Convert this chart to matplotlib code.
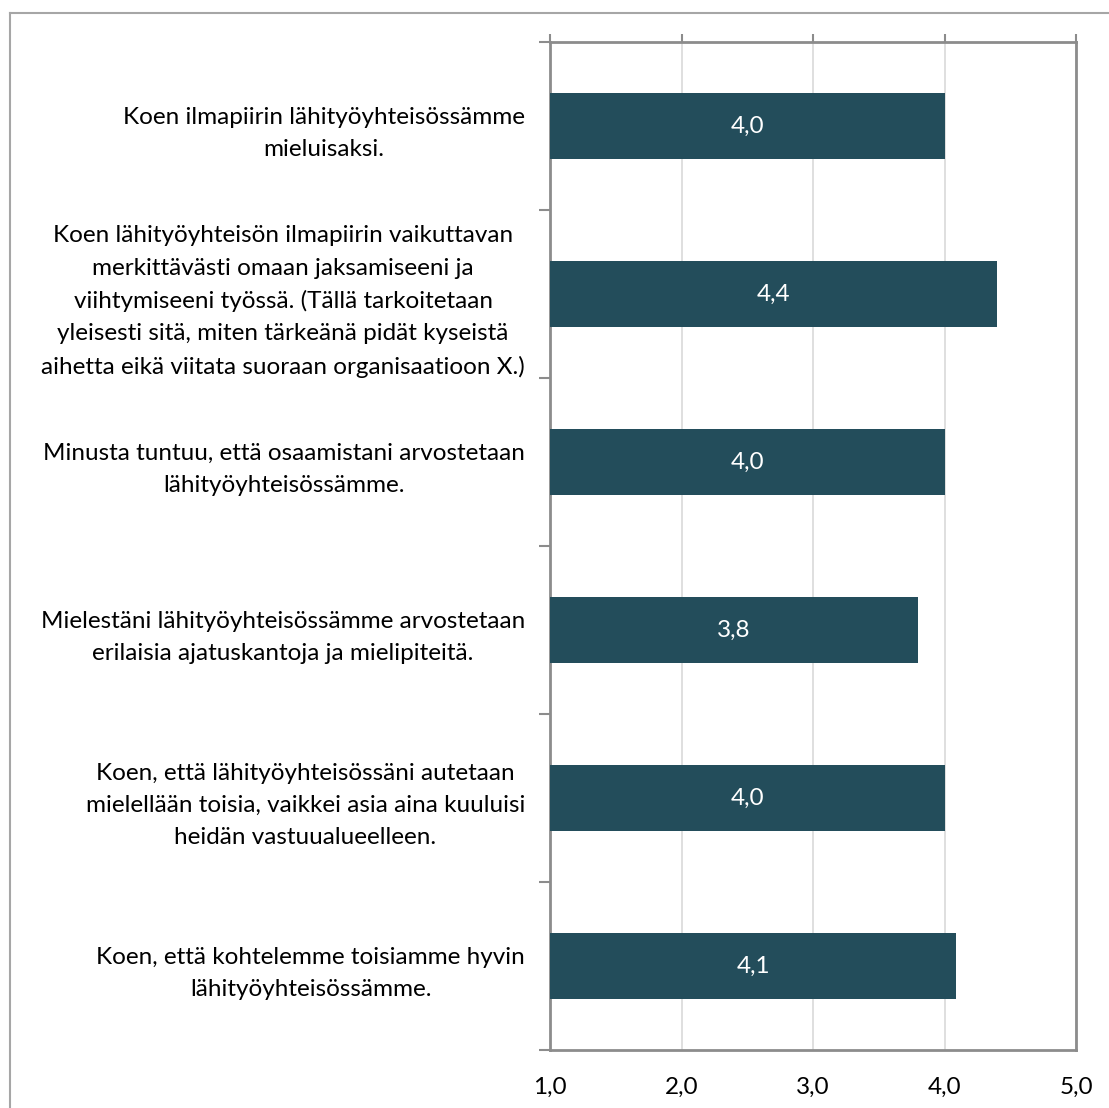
import matplotlib.pyplot as plt
from matplotlib.lines import Line2D

labels = [
    "Koen ilmapiirin lähityöyhteisössämme\nmieluisaksi.",
    "Koen lähityöyhteisön ilmapiirin vaikuttavan\nmerkittävästi omaan jaksamiseeni ja\n"
    "viihtymiseeni työssä. (Tällä tarkoitetaan\nyleisesti sitä, miten tärkeänä pidät kyseistä\n"
    "aihetta eikä viitata suoraan organisaatioon X.)",
    "Minusta tuntuu, että osaamistani arvostetaan\nlähityöyhteisössämme.",
    "Mielestäni lähityöyhteisössämme arvostetaan\nerilaisia ajatuskantoja ja mielipiteitä.",
    "Koen, että lähityöyhteisössäni autetaan\nmielellään toisia, vaikkei asia aina kuuluisi\n"
    "heidän vastuualueelleen.",
    "Koen, että kohtelemme toisiamme hyvin\nlähityöyhteisössämme.",
]
values = [4.0, 4.4, 4.0, 3.8, 4.0, 4.09]
value_labels = ["4,0", "4,4", "4,0", "3,8", "4,0", "4,1"]
xticks = [1, 2, 3, 4, 5]
xtick_labels = ["1,0", "2,0", "3,0", "4,0", "5,0"]

plt.rcParams['font.family'] = ['Lato', 'DejaVu Sans']

W, H = 1109, 1108
fig = plt.figure(figsize=(W / 100, H / 100), dpi=100)
ax = fig.add_axes([550 / W, 1 - 1050 / H, (1076 - 550) / W, (1050 - 42) / H])

bar_color = '#234D5B'
grey = '#8C8C8C'
fs = 17.5
pos = list(range(len(labels)))
ax.barh(pos, [v - 1 for v in values], left=1, height=0.393, color=bar_color, zorder=3)
for p, v, t in zip(pos, values, value_labels):
    ax.text(1 + (v - 1) / 2, p, t, color='white', ha='center', va='center',
            fontsize=fs, zorder=4)

ax.set_xlim(1, 5)
ax.set_ylim(len(labels) - 0.5, -0.5)
ax.set_xticks(xticks)
ax.set_xticklabels(xtick_labels, fontsize=fs)
ax.tick_params(axis='x', top=True, bottom=False, labeltop=False, labelbottom=True,
               direction='out', length=6, width=1.5, color=grey, pad=13)
ax.grid(axis='x', color='#D9D9D9', linewidth=1.2, zorder=0)

ax.set_yticks(pos)
ax.set_yticklabels(labels, fontsize=fs, linespacing=1.65)
for t in ax.get_yticklabels():
    t.set_multialignment('center')
ax.tick_params(axis='y', which='major', length=0, pad=18)
ax.set_yticks([p - 0.5 for p in pos] + [len(labels) - 0.5], minor=True)
ax.tick_params(axis='y', which='minor', length=8, width=1.5, color=grey, direction='out')

for s in ax.spines.values():
    s.set_color(grey)
    s.set_linewidth(2)

# outer chart border (left and top edges visible)
fig.add_artist(Line2D([10 / W, 10 / W], [0, 1 - 13 / H], color='#A6A6A6', lw=1.5,
                      transform=fig.transFigure))
fig.add_artist(Line2D([10 / W, 1], [1 - 13 / H, 1 - 13 / H], color='#A6A6A6', lw=1.5,
                      transform=fig.transFigure))

fig.savefig('out.png', dpi=100)
